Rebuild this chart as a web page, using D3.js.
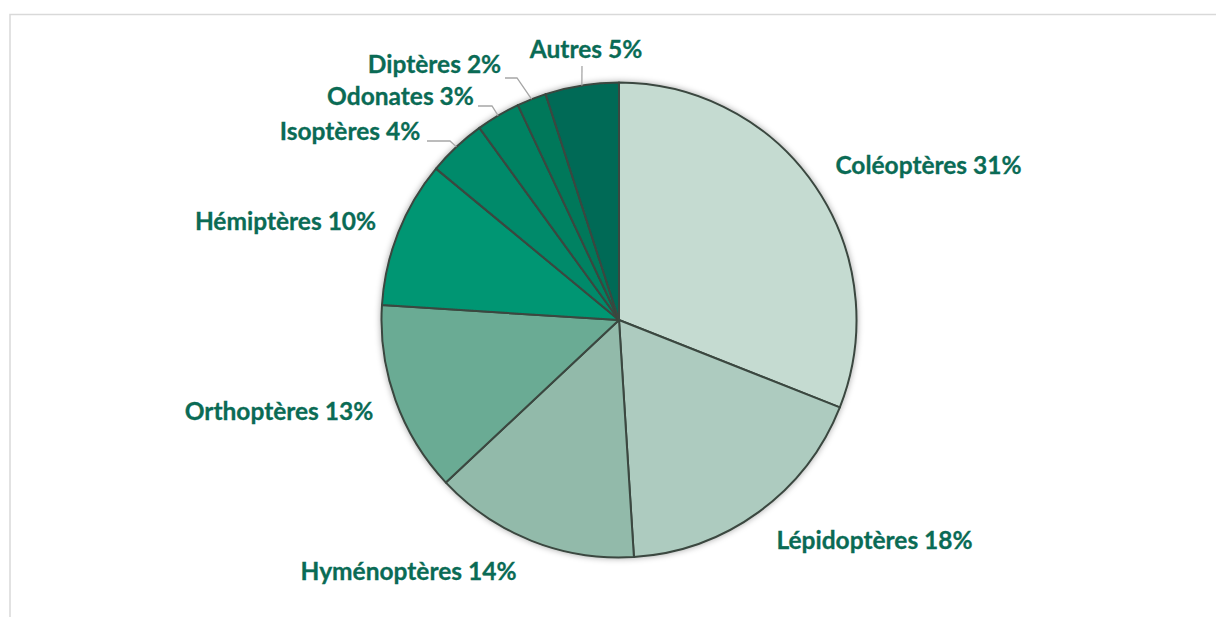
<!DOCTYPE html>
<html>
<head>
<meta charset="utf-8">
<script src="https://cdn.jsdelivr.net/npm/d3@7"></script>
<style>
  html, body { margin: 0; padding: 0; background: #ffffff; }
  svg { display: block; }
</style>
</head>
<body>
<svg id="chart" width="1216" height="617"></svg>
<script>
// ---- data ----
const categories = ["Coléoptères", "Lépidoptères", "Hyménoptères", "Orthoptères", "Hémiptères", "Isoptères", "Odonates", "Diptères", "Autres"];
const values = [31, 18, 14, 13, 10, 4, 3, 2, 5];
const colors = ["#c5dbd1", "#adcbbf", "#92baaa", "#6aab94", "#009673", "#008a6a", "#008262", "#00785a", "#006a57"];

// ---- layout (label anchors relative to pie centre; leader end/elbow) ----
const labelPos = [[309.5, -146], [255.5, 229], [-210.5, 260], [-340, 100], [-333.5, -90], [-269, -180], [-218.5, -215], [-184.5, -247], [-33, -262]];
const leaders = [null, null, null, null, null,
  [[-192, -179], [-169, -179]],
  [[-141, -214], [-127, -214]],
  [[-114, -242], [-102, -242]],
  [[-37, -254]]];

const W = 1216, H = 617;
const cx = 619, cy = 320, R = 237.5;
const textColor = "#0a6b55";

const svg = d3.select("#chart");

// chart area border (extends beyond the window on the right/bottom)
svg.append("rect")
  .attr("x", 10).attr("y", 14.5)
  .attr("width", W + 20).attr("height", H + 20)
  .attr("fill", "#ffffff")
  .attr("stroke", "#d9d9d9")
  .attr("stroke-width", 1.5);

const defs = svg.append("defs");
const f = defs.append("filter").attr("id", "shadow")
  .attr("x", "-10%").attr("y", "-10%").attr("width", "120%").attr("height", "120%");
f.append("feDropShadow").attr("dx", 0).attr("dy", 0).attr("stdDeviation", 3)
  .attr("flood-color", "#000").attr("flood-opacity", 0.35);

const pie = d3.pie().sort(null).value(d => d)(values);
const arc = d3.arc().innerRadius(0).outerRadius(R);

const g = svg.append("g").attr("transform", `translate(${cx},${cy})`);

g.append("g").attr("filter", "url(#shadow)")
  .selectAll("path").data(pie).join("path")
  .attr("d", arc)
  .attr("fill", (d, i) => colors[i])
  .attr("stroke", "#3a473f")
  .attr("stroke-width", 2)
  .attr("stroke-linejoin", "round");

// leader lines
pie.forEach((d, i) => {
  const L = leaders[i];
  if (!L) return;
  const mid = (d.startAngle + d.endAngle) / 2;
  const p0 = [R * Math.sin(mid), -R * Math.cos(mid)];
  const pts = [p0].concat(L.slice().reverse());
  g.append("path")
    .attr("d", d3.line()(pts))
    .attr("fill", "none")
    .attr("stroke", "#a6a6a6")
    .attr("stroke-width", 1.3);
});

// labels
g.selectAll("text.lbl").data(pie).join("text")
  .attr("class", "lbl")
  .attr("x", (d, i) => labelPos[i][0])
  .attr("y", (d, i) => labelPos[i][1])
  .attr("text-anchor", "middle")
  .attr("font-family", "Lato, 'Open Sans', sans-serif")
  .attr("font-weight", "bold")
  .attr("font-size", 24.5)
  .attr("fill", textColor)
  .attr("stroke", textColor)
  .attr("stroke-width", 0.3)
  .text((d, i) => `${categories[i]} ${values[i]}%`);
</script>
</body>
</html>
